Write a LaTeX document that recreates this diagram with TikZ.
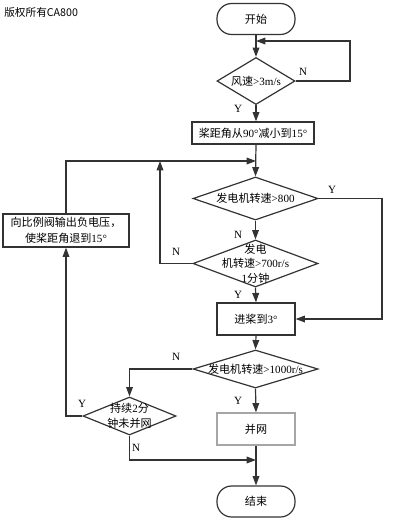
\documentclass[tikz,border=0pt]{standalone}
\usepackage{fontspec}
\setmainfont{Liberation Serif}
\newfontfamily\cjk{Noto Sans CJK SC}
\usetikzlibrary{shapes.geometric,arrows.meta}
\newdimen\px \px=0.75pt
\newcommand{\C}[1]{{\cjk #1}}
\definecolor{ln}{HTML}{333333}
\tikzset{
  base/.style={draw=ln, line width=0.9pt, inner sep=0pt, font=\fontsize{8.3}{10}\selectfont, text=black},
  term/.style={base, rectangle, rounded corners=11pt, minimum width=78\px, minimum height=31\px},
  proc/.style={base, rectangle, align=center},
  dia/.style={base, diamond},
  arr/.style={draw=ln, line width=0.9pt, -{Triangle[length=7pt,width=5pt]}},
  lnk/.style={draw=ln, line width=0.9pt},
  yn/.style={font=\fontsize{8.3}{10}\selectfont, inner sep=0pt}
}
\begin{document}
\begin{tikzpicture}[x=0.75pt,y=-0.75pt]
\useasboundingbox (0,0) rectangle (407,522);
\node[anchor=west, inner sep=0pt, font=\cjk\fontsize{8}{10}\selectfont] (title) at (4,12) {版权所有CA800};

\node[term] (start) at (256,19) {\C{开始}};
\node[dia, minimum width=78\px, minimum height=47\px, label={[yn]center:\C{风速}>3m/s}] (d1) at (256,81) {};
\node[proc, minimum width=122\px, minimum height=22\px] (b1) at (253,133) {\C{桨距角从}90°\C{减小到}15°};
\node[dia, minimum width=125\px, minimum height=43\px, label={[yn]center:\C{发电机转速}>800}] (d2) at (255.5,198.5) {};
\node[dia, minimum width=125\px, minimum height=47\px, label={[yn,align=center]center:\C{发电}\\[1pt]\C{机转速}>700r/s\\[1pt]1\C{分钟}}] (d3) at (255.5,263.5) {};
\node[proc, minimum width=78\px, minimum height=32\px] (b2) at (256,319) {\C{进桨到}3°};
\node[dia, minimum width=125\px, minimum height=38\px, label={[yn]center:\C{发电机转速}>1000r/s}] (d4) at (255.5,369) {};
\node[dia, minimum width=93\px, minimum height=38\px, label={[yn,align=center]center:\C{持续}2\C{分}\\[1pt]\C{钟未并网}}] (d5) at (129.5,416) {};
\node[proc, draw=gray!70, minimum width=78\px, minimum height=32\px] (b4) at (256,429) {\C{并网}};
\node[term] (end) at (256,501.5) {\C{结束}};
\node[proc, minimum width=126\px, minimum height=33\px] (b3) at (66,230.5) {\C{向比例阀输出负电压，}\\[2pt]\C{使桨距角退到}15°};

\coordinate (j1) at (256,41);
\coordinate (j2) at (256,161);
\coordinate (j4) at (160,161);
\coordinate (j3) at (256,460);

\draw[arr] (start.south) -- (d1.north);
\draw[arr] (d1.east) -- (350,81) |- (j1);
\draw[arr] (d1.south) -- (d1.south |- b1.north);
\draw[arr] (d1.south |- b1.south) -- (d2.north);
\draw[arr] (b3.north) |- (j2);
\draw[arr] (d3.west) -| (j4);
\draw[arr] (d2.east) -- (382,198.5) |- (b2.east);
\draw[arr] (d2.south) -- (d3.north);
\draw[arr] (d3.south) -- (b2.north);
\draw[arr] (b2.south) -- (d4.north);
\draw[arr] (d4.west) -| (d5.north);
\draw[arr] (d4.south) -- (b4.north);
\draw[arr] (d5.west) -| (b3.south);
\draw[arr] (d5.south) |- (j3);
\draw[arr] (b4.south) -- (end.north);

\node[yn] (l1) at (303,72) {N};
\node[yn] (l2) at (238,109) {Y};
\node[yn] (l3) at (332,190) {Y};
\node[yn] (l4) at (238,235) {N};
\node[yn] (l5) at (176,252) {N};
\node[yn] (l6) at (238,295) {Y};
\node[yn] (l7) at (176,357) {N};
\node[yn] (l8) at (238,401) {Y};
\node[yn] (l9) at (82,404) {Y};
\node[yn] (l10) at (136,448) {N};
\end{tikzpicture}
\end{document}
